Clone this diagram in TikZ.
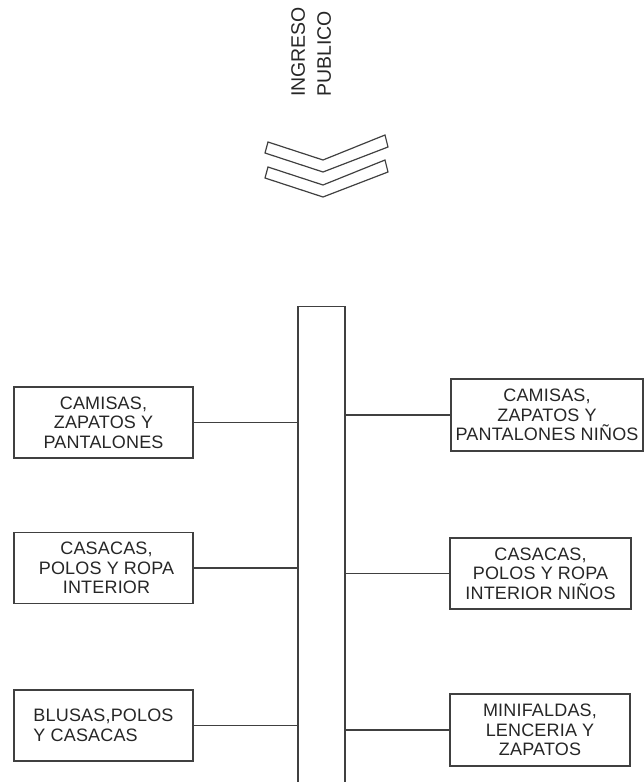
\documentclass[tikz,border=0pt]{standalone}
\usepackage{fontspec}
\setmainfont{Liberation Sans}
\newfontfamily\cajafont{Liberation Sans}[LetterSpace=1]
\usetikzlibrary{positioning}
\definecolor{trazo}{rgb}{0.25,0.25,0.25}
\definecolor{texto}{rgb}{0.15,0.15,0.15}

\begin{document}
\begin{tikzpicture}[
  x=1pt, y=-1pt,
  caja/.style={draw=trazo, line width=1.2pt, align=center, inner sep=0pt,
               minimum width=179pt, minimum height=71pt, text=texto,
               font=\cajafont\fontsize{18}{19.5}\selectfont},
  enlace/.style={draw=trazo, line width=1.2pt},
  chevron/.style={draw=trazo, line width=1.2pt, line join=miter}
]
\useasboundingbox (0,0) rectangle (644,782);

% entrada
\node[rotate=90, anchor=north west, align=left, inner sep=0pt, text=texto,
      font=\fontsize{19.5}{26}\selectfont] (ingreso) at (291,97) {INGRESO\\PUBLICO};

\foreach \dy in {0,25} {
  \draw[chevron] (268,{142+\dy}) -- (323,{160+\dy}) -- (385,{135+\dy})
    -- (388,{147+\dy}) -- (323,{172+\dy}) -- (265,{153+\dy}) -- cycle;
}

% pasillo central (sigue bajo el borde inferior)
\node[draw=trazo, line width=1.2pt, minimum width=47pt, minimum height=500pt,
      inner sep=0pt, anchor=north] (pasillo) at (321.5,306) {};

% lado izquierdo
\node[caja] (iz1) at (103.5,422.5) {CAMISAS,\\ZAPATOS Y\\PANTALONES};
\node[caja] (iz2) at (103.5,568) {\hspace*{6pt}CASACAS,\\\hspace*{6pt}POLOS Y ROPA\\\hspace*{6pt}INTERIOR};
\node[caja, align=left] (iz3) at (103.5,725.5) {BLUSAS,POLOS\\Y CASACAS};

% lado derecho
\node[caja, minimum width=192pt, minimum height=72pt] (de1) at (547,415)
     {CAMISAS,\\ZAPATOS Y\\PANTALONES NIÑOS};
\node[caja, minimum width=181pt] (de2) at (540.5,573.5)
     {CASACAS,\\POLOS Y ROPA\\INTERIOR NIÑOS};
\node[caja, minimum width=180pt, minimum height=72pt] (de3) at (540,730)
     {MINIFALDAS,\\LENCERIA Y\\ZAPATOS};

% enlaces al pasillo
\foreach \c in {iz1,iz2,iz3}
  \draw[enlace] (\c.east) -- (\c.east -| pasillo.west);
\foreach \c in {de1,de2,de3}
  \draw[enlace] (pasillo.east |- \c.west) -- (\c.west);
\end{tikzpicture}
\end{document}
